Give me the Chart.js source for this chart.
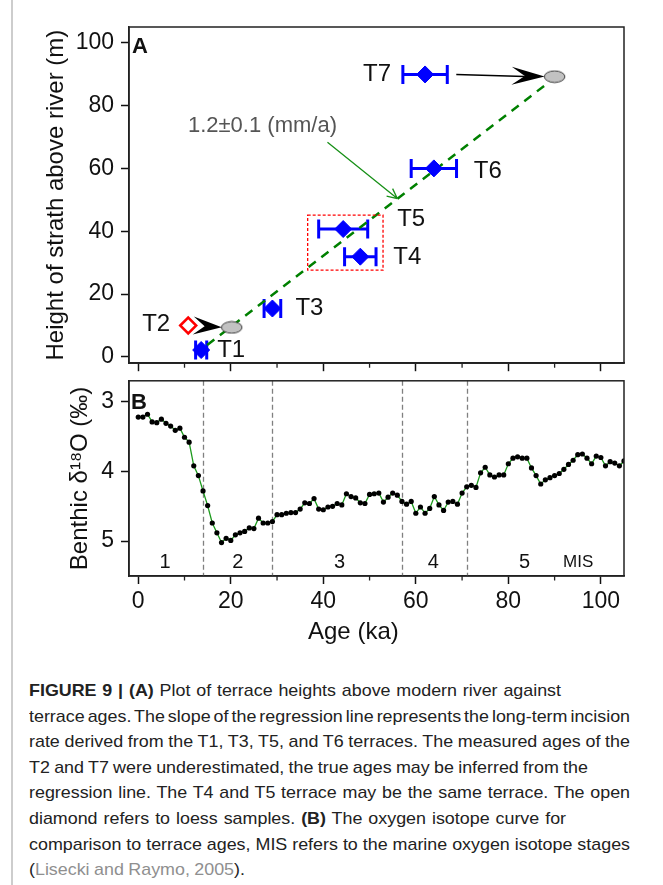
<!DOCTYPE html>
<html>
<head>
<meta charset="utf-8">
<script src="https://cdn.jsdelivr.net/npm/chart.js@4.4.1/dist/chart.umd.min.js"></script>
<style>
  html, body { margin: 0; padding: 0; background: #fff; }
  body { width: 663px; height: 885px; position: relative; overflow: hidden; font-family: 'Liberation Sans', Arial, sans-serif; }
  .side-rule { position: absolute; left: 11px; top: 0; width: 2px; height: 885px; background: #cdcdcd; }
  #chartA { position: absolute; left: 0; top: 0; }
  #chartB { position: absolute; left: 0; top: 360px; }
  #caption { position: absolute; left: 29px; top: 678px; font-size: 17px; line-height: 25.6px; color: #222; transform-origin: 0 0; white-space: nowrap; }
  .cap-line { width: max-content; }
  .ref { color: #8f8f8f; }
</style>
</head>
<body>
<div class="side-rule"></div>
<canvas id="chartA" width="663" height="384"></canvas>
<canvas id="chartB" width="663" height="300"></canvas>
<div id="caption">
  <div class="cap-line"><b>FIGURE 9 | (A)</b> Plot of terrace heights above modern river against</div>
  <div class="cap-line">terrace ages. The slope of the regression line represents the long-term incision</div>
  <div class="cap-line">rate derived from the T1, T3, T5, and T6 terraces. The measured ages of the</div>
  <div class="cap-line">T2 and T7 were underestimated, the true ages may be inferred from the</div>
  <div class="cap-line">regression line. The T4 and T5 terrace may be the same terrace. The open</div>
  <div class="cap-line">diamond refers to loess samples. <b>(B)</b> The oxygen isotope curve for</div>
  <div class="cap-line">comparison to terrace ages, MIS refers to the marine oxygen isotope stages</div>
  <div class="cap-line">(<span class="ref">Lisecki and Raymo, 2005</span>).</div>
</div>
<script>
// panel A: terrace strath heights vs age
const terraces = ['T1', 'T2', 'T3', 'T4', 'T5', 'T6', 'T7'];
const terraceAges = [13.6, 10.8, 29.0, 48.0, 44.3, 63.9, 62.0];
const terraceAgeErr = [1.2, 0, 1.8, 3.4, 5.3, 4.9, 4.8];
const terraceHeights = [2.2, 10.0, 15.4, 31.9, 40.7, 60.0, 89.9];
const loessSample = [false, true, false, false, false, false, false];

// T2 and T7 moved onto the regression line
const correctedTerraces = ['T2', 'T7'];
const correctedAges = [20.2, 90.0];
const correctedHeights = [9.4, 89.2];

const regressionAges = [14.9, 89.0];
const regressionHeights = [3.8, 87.7];
const rateLabel = '1.2±0.1 (mm/a)';
const rateArrowAges = [40.9, 56.0];
const rateArrowHeights = [68.3, 50.4];
const sameTerraces = ['T4', 'T5'];

const ageTicks = [0, 20, 40, 60, 80, 100];
const ageMinorTicks = [10, 30, 50, 70, 90];
const heightTicks = [0, 20, 40, 60, 80, 100];

// panel B: benthic d18O stack, 1 kyr steps from 0 ka
const d18O = [
  3.22, 3.22, 3.18, 3.29, 3.30, 3.25, 3.31, 3.35, 3.41, 3.38,
  3.51, 3.58, 3.92, 4.06, 4.28, 4.49, 4.74, 4.88, 5.02, 4.96,
  4.99, 4.91, 4.88, 4.86, 4.81, 4.82, 4.67, 4.74, 4.74, 4.72,
  4.62, 4.62, 4.60, 4.59, 4.59, 4.54, 4.45, 4.46, 4.39, 4.54,
  4.55, 4.51, 4.50, 4.46, 4.48, 4.32, 4.36, 4.38, 4.45, 4.46,
  4.33, 4.32, 4.31, 4.44, 4.37, 4.31, 4.34, 4.43, 4.47, 4.43,
  4.60, 4.51, 4.60, 4.53, 4.36, 4.48, 4.56, 4.44, 4.43, 4.47,
  4.31, 4.22, 4.20, 4.23, 4.02, 3.94, 4.05, 4.08, 4.05, 4.05,
  3.89, 3.81, 3.79, 3.81, 3.81, 3.95, 4.06, 4.18, 4.12, 4.09,
  4.06, 4.03, 3.97, 3.90, 3.84, 3.76, 3.75, 3.81, 3.89, 3.78,
  3.80, 3.92, 3.86, 3.88, 3.92, 3.85
];
const d18OTicks = [3, 4, 5];
const misBoundaries = [14, 29, 57, 71];
const misLabels = ['1', '2', '3', '4', '5'];
const misLabelAges = [5.8, 21.5, 43.5, 63.8, 83.5];

const FONT = "'Liberation Sans', Arial, sans-serif";
const INK = '#111';

function ellipseMarker() {
  const c = document.createElement('canvas');
  c.width = 23; c.height = 14;
  const g = c.getContext('2d');
  g.beginPath();
  g.ellipse(11.5, 7, 10.3, 5.8, 0, 0, Math.PI * 2);
  g.fillStyle = '#c2c2c2';
  g.fill();
  g.lineWidth = 1;
  g.strokeStyle = '#3a3a3a';
  g.stroke();
  return c;
}

function stealthHead(ctx, x0, y0, x1, y1, len, half) {
  const ang = Math.atan2(y1 - y0, x1 - x0);
  ctx.save();
  ctx.translate(x1, y1);
  ctx.rotate(ang);
  ctx.beginPath();
  ctx.moveTo(0, 0);
  ctx.lineTo(-len, -half);
  ctx.lineTo(-len * 0.6, 0);
  ctx.lineTo(-len, half);
  ctx.closePath();
  ctx.fill();
  ctx.restore();
}

function drawFrame(chart) {
  const {ctx, chartArea: a, scales: {x}} = chart;
  ctx.save();
  ctx.strokeStyle = '#222';
  ctx.lineWidth = 1.5;
  ctx.strokeRect(a.left, a.top, a.right - a.left, a.bottom - a.top);
  ctx.lineWidth = 1.3;
  ctx.beginPath();
  ageMinorTicks.forEach(v => {
    const px = x.getPixelForValue(v);
    ctx.moveTo(px, a.bottom);
    ctx.lineTo(px, a.bottom + 4.5);
  });
  ctx.stroke();
  ctx.restore();
}

const fixedTicks = list => scale => { scale.ticks = list.map(v => ({value: v})); };

const axisGrid = {drawOnChartArea: false, tickLength: 8, tickWidth: 1.5, tickColor: '#111'};
const axisBorder = {color: '#222', width: 1.5};

const labelOffsets = {
  T1: [16, 0, 'left'], T2: [-18, -1, 'right'], T3: [23, 0, 'left'], T4: [33, 1, 'left'],
  T5: [54, -10, 'left'], T6: [40, 3, 'left'], T7: [-34, 0, 'right']
};

const panelA = {
  id: 'panelA',
  beforeDatasetsDraw(chart) {
    const {ctx, scales: {x, y}} = chart;
    ctx.save();
    ctx.strokeStyle = '#0000ff';
    ctx.lineWidth = 3;
    terraces.forEach((t, i) => {
      if (!terraceAgeErr[i]) return;
      const py = y.getPixelForValue(terraceHeights[i]);
      const x0 = x.getPixelForValue(terraceAges[i] - terraceAgeErr[i]);
      const x1 = x.getPixelForValue(terraceAges[i] + terraceAgeErr[i]);
      ctx.beginPath();
      ctx.moveTo(x0, py); ctx.lineTo(x1, py);
      ctx.moveTo(x0, py - 9.5); ctx.lineTo(x0, py + 9.5);
      ctx.moveTo(x1, py - 9.5); ctx.lineTo(x1, py + 9.5);
      ctx.stroke();
    });
    ctx.restore();
  },
  afterDatasetsDraw(chart) {
    const {ctx, scales: {x, y}, chartArea: a} = chart;
    ctx.save();

    // dashed box round T4 and T5
    const idx = sameTerraces.map(t => terraces.indexOf(t));
    const bl = Math.min(...idx.map(i => x.getPixelForValue(terraceAges[i] - terraceAgeErr[i]))) - 11;
    const br = Math.max(...idx.map(i => x.getPixelForValue(terraceAges[i] + terraceAgeErr[i]))) + 7;
    const bt = Math.min(...idx.map(i => y.getPixelForValue(terraceHeights[i]))) - 14;
    const bb = Math.max(...idx.map(i => y.getPixelForValue(terraceHeights[i]))) + 13.5;
    ctx.strokeStyle = '#ff0000';
    ctx.lineWidth = 1.3;
    ctx.setLineDash([3, 2]);
    ctx.strokeRect(bl, bt, br - bl, bb - bt);
    ctx.setLineDash([]);

    // arrows from measured to corrected ages
    ctx.fillStyle = '#000';
    ctx.strokeStyle = '#000';
    correctedTerraces.forEach((t, j) => {
      const i = terraces.indexOf(t);
      const py = y.getPixelForValue(terraceHeights[i]);
      const sx = x.getPixelForValue(terraceAges[i] + terraceAgeErr[i]) + (terraceAgeErr[i] ? 9 : 5);
      const ex = x.getPixelForValue(correctedAges[j]) - 10;
      const ey = y.getPixelForValue(correctedHeights[j]);
      const len = Math.min(33, ex - sx);
      if (ex - sx > len + 1) {
        ctx.lineWidth = 1.5;
        ctx.beginPath();
        ctx.moveTo(sx, py);
        ctx.lineTo(ex - len * 0.6, py + (ey - py) * 0.9);
        ctx.stroke();
      }
      stealthHead(ctx, sx, py, ex, py + (ey - py) * 0.9, len, 9);
    });

    // incision-rate annotation
    const ax0 = x.getPixelForValue(rateArrowAges[0]);
    const ay0 = y.getPixelForValue(rateArrowHeights[0]);
    const ax1 = x.getPixelForValue(rateArrowAges[1]);
    const ay1 = y.getPixelForValue(rateArrowHeights[1]);
    ctx.strokeStyle = '#179017';
    ctx.lineWidth = 1.3;
    ctx.beginPath();
    ctx.moveTo(ax0, ay0);
    ctx.lineTo(ax1, ay1);
    const ang = Math.atan2(ay1 - ay0, ax1 - ax0);
    [-0.45, 0.45].forEach(d => {
      ctx.moveTo(ax1, ay1);
      ctx.lineTo(ax1 - 11 * Math.cos(ang + d), ay1 - 11 * Math.sin(ang + d));
    });
    ctx.stroke();
    ctx.fillStyle = '#555';
    ctx.font = `22px ${FONT}`;
    ctx.textAlign = 'center';
    ctx.textBaseline = 'middle';
    ctx.fillText(rateLabel, ax0 - 65, ay0 - 16);

    // terrace labels
    ctx.fillStyle = INK;
    ctx.font = `24px ${FONT}`;
    terraces.forEach((t, i) => {
      const [dx, dy, align] = labelOffsets[t];
      ctx.textAlign = align;
      ctx.fillText(t, x.getPixelForValue(terraceAges[i]) + dx, y.getPixelForValue(terraceHeights[i]) + dy);
    });

    ctx.font = `bold 22px ${FONT}`;
    ctx.textAlign = 'left';
    ctx.textBaseline = 'top';
    ctx.fillText('A', a.left + 3, a.top + 9);
    ctx.restore();
  },
  afterDraw: drawFrame
};

const panelB = {
  id: 'panelB',
  beforeDatasetsDraw(chart) {
    const {ctx, scales: {x}, chartArea: a} = chart;
    ctx.save();
    ctx.strokeStyle = '#808080';
    ctx.lineWidth = 1.3;
    ctx.setLineDash([5, 3]);
    ctx.beginPath();
    misBoundaries.forEach(v => {
      const px = Math.round(x.getPixelForValue(v)) + 0.5;
      ctx.moveTo(px, a.top);
      ctx.lineTo(px, a.bottom);
    });
    ctx.stroke();
    ctx.restore();
  },
  afterDatasetsDraw(chart) {
    const {ctx, scales: {x, y}, chartArea: a} = chart;
    ctx.save();
    ctx.fillStyle = INK;
    ctx.textAlign = 'center';
    ctx.textBaseline = 'middle';
    ctx.font = `20px ${FONT}`;
    const ly = y.getPixelForValue(5.3);
    misLabels.forEach((t, i) => ctx.fillText(t, x.getPixelForValue(misLabelAges[i]), ly));
    ctx.font = `17px ${FONT}`;
    ctx.fillText('MIS', x.getPixelForValue(95.1), ly);

    ctx.font = `bold 22px ${FONT}`;
    ctx.textAlign = 'left';
    ctx.textBaseline = 'top';
    ctx.fillText('B', a.left + 2, a.top + 11);

    ctx.font = `24px ${FONT}`;
    ctx.textAlign = 'center';
    ctx.textBaseline = 'middle';
    ctx.fillText('Age (ka)', x.getPixelForValue(46.5), 272);
    ctx.restore();
  },
  afterDraw: drawFrame
};

const blue = terraces.map((t, i) => i).filter(i => !loessSample[i]);
const loess = terraces.map((t, i) => i).filter(i => loessSample[i]);

new Chart(document.getElementById('chartA'), {
  type: 'scatter',
  data: {
    datasets: [
      {
        label: 'Terrace', order: 1,
        data: blue.map(i => ({x: terraceAges[i], y: terraceHeights[i]})),
        pointStyle: 'rectRot', pointRadius: 8.5,
        backgroundColor: '#0000ff', borderColor: '#0000ff', borderWidth: 1
      },
      {
        label: 'Loess', order: 1,
        data: loess.map(i => ({x: terraceAges[i], y: terraceHeights[i]})),
        pointStyle: 'rectRot', pointRadius: 8,
        backgroundColor: '#fff', borderColor: '#ff0000', borderWidth: 2.5
      },
      {
        label: 'Corrected', order: 2,
        data: correctedAges.map((v, i) => ({x: v, y: correctedHeights[i]})),
        pointStyle: ellipseMarker(), pointRadius: 10
      },
      {
        type: 'line', label: 'Regression', order: 3,
        data: regressionAges.map((v, i) => ({x: v, y: regressionHeights[i]})),
        borderColor: '#008000', borderWidth: 2.5, borderDash: [9, 7], pointRadius: 0
      }
    ]
  },
  options: {
    responsive: false,
    animation: false,
    events: [],
    layout: {padding: {top: 27, right: 39, left: 0, bottom: 0}},
    plugins: {legend: {display: false}, tooltip: {enabled: false}},
    scales: {
      x: {
        type: 'linear', min: -2, max: 105,
        afterFit(s) { s.height = 10; },
        afterBuildTicks: fixedTicks(ageTicks),
        ticks: {display: false},
        grid: axisGrid, border: axisBorder
      },
      y: {
        type: 'linear', min: -2, max: 105,
        afterFit(s) { s.width = 129; },
        afterBuildTicks: fixedTicks(heightTicks),
        ticks: {font: {family: FONT, size: 23}, color: INK, padding: 7},
        grid: axisGrid, border: axisBorder,
        title: {display: true, text: 'Height of strath above river (m)', color: INK,
                font: {family: FONT, size: 24}, padding: {top: 42, bottom: 0}}
      }
    }
  },
  plugins: [panelA]
});

new Chart(document.getElementById('chartB'), {
  type: 'line',
  data: {
    datasets: [{
      label: 'Benthic d18O',
      data: d18O.map((v, i) => ({x: i, y: v})),
      borderColor: '#1c9a1c', borderWidth: 1.3, tension: 0,
      pointRadius: 2.6, pointBackgroundColor: '#000', pointBorderWidth: 0
    }]
  },
  options: {
    responsive: false,
    animation: false,
    events: [],
    layout: {padding: {top: 14, right: 39, left: 0, bottom: 0}},
    plugins: {legend: {display: false}, tooltip: {enabled: false}},
    scales: {
      x: {
        type: 'linear', min: -2, max: 105,
        afterFit(s) { s.height = 84; },
        afterBuildTicks: fixedTicks(ageTicks),
        ticks: {font: {family: FONT, size: 23}, color: INK, padding: 4, maxRotation: 0},
        grid: axisGrid, border: axisBorder
      },
      y: {
        type: 'linear', min: 2.7, max: 5.5, reverse: true,
        afterFit(s) { s.width = 129; },
        afterBuildTicks: fixedTicks(d18OTicks),
        ticks: {font: {family: FONT, size: 23}, color: INK, padding: 7},
        grid: axisGrid, border: axisBorder,
        title: {display: true, text: 'Benthic δ¹⁸O (‰)', color: INK,
                font: {family: FONT, size: 24}, padding: {top: 66, bottom: 0}}
      }
    }
  },
  plugins: [panelB]
});

// caption: condensed face, justified lines -> one common squeeze, then word spacing per line
const capLineWidths = [532, 601, 601, 559, 601, 537, 601, 216];
const cap = document.getElementById('caption');
const lines = [...cap.querySelectorAll('.cap-line')];
const natural = lines.map(l => l.getBoundingClientRect().width);
const ratios = natural.map((w, i) => capLineWidths[i] / w).sort((a, b) => a - b);
const squeeze = ratios[Math.floor(ratios.length / 2)];
cap.style.transform = `scaleX(${squeeze.toFixed(4)})`;
lines.forEach((l, i) => {
  const gaps = (l.textContent.trim().match(/ /g) || []).length;
  const extra = capLineWidths[i] / squeeze - natural[i];
  if (gaps) l.style.wordSpacing = `${(extra / gaps).toFixed(2)}px`;
});
</script>
</body>
</html>
